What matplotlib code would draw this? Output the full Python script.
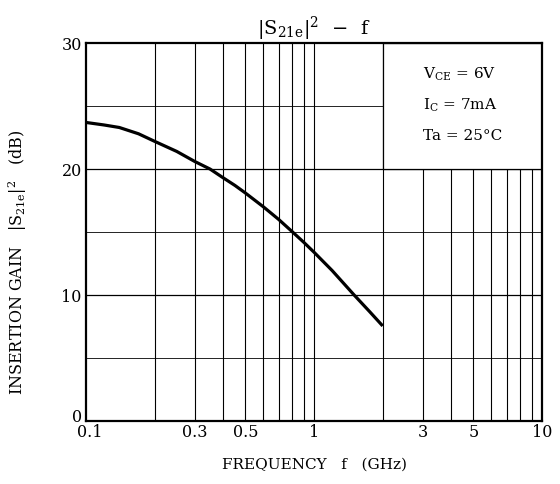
import matplotlib
matplotlib.use('Agg')
import matplotlib.pyplot as plt
import matplotlib.transforms as mtransforms
from matplotlib.ticker import FixedLocator, NullFormatter
from matplotlib.patches import Rectangle

plt.rcParams['font.family'] = ['DejaVu Serif']
plt.rcParams['mathtext.fontset'] = 'custom'
plt.rcParams['mathtext.rm'] = 'DejaVu Serif'
plt.rcParams['mathtext.it'] = 'DejaVu Serif'

# |S21e|^2 vs frequency
freq = [0.1, 0.12, 0.14, 0.17, 0.2, 0.25, 0.3, 0.35, 0.4, 0.45, 0.5, 0.6, 0.7, 0.8,
        0.9, 1.0, 1.2, 1.5, 1.75, 2.0]
gain = [23.7, 23.5, 23.3, 22.8, 22.2, 21.4, 20.6, 20.0, 19.3, 18.7, 18.1, 17.0, 16.0,
        15.05, 14.2, 13.4, 11.95, 10.0, 8.7, 7.55]

xtick_vals = [0.1, 0.3, 0.5, 1, 3, 5, 10]
xtick_labels = ['0.1', '0.3', '0.5', '1', '3', '5', '10']
ytick_vals = [0, 10, 20, 30]
conditions = [r'V$_{\mathrm{CE}}$ = 6V', r'I$_{\mathrm{C}}$ = 7mA', 'Ta = 25°C']

fig = plt.figure(figsize=(5.6, 4.84), dpi=100)
ax = fig.add_axes([0.1536, 0.130, 0.8144, 0.781])

ax.set_xscale('log')
ax.set_xlim(0.1, 10)
ax.set_ylim(0, 30)

# grid lines
grid_x = [0.2, 0.3, 0.4, 0.5, 0.6, 0.7, 0.8, 0.9, 1, 2, 3, 4, 5, 6, 7, 8, 9]
for gx in grid_x:
    ax.axvline(gx, color='black', lw=0.8, zorder=1)
for gy in [5, 10, 15, 20, 25]:
    ax.axhline(gy, color='black', lw=0.9 if gy % 10 == 0 else 0.6, zorder=1)

# condition box covers grid
ax.add_patch(Rectangle((2, 20), 8, 10, facecolor='white', edgecolor='black',
                       lw=0.9, zorder=2))
for i, txt in enumerate(conditions):
    ax.text(3.0, 27.5 - 2.45 * i, txt, fontsize=11, va='center', ha='left', zorder=3)

ax.plot(freq, gain, color='black', lw=2.3, zorder=4, solid_capstyle='butt',
        solid_joinstyle='round')

ax.xaxis.set_major_locator(FixedLocator(xtick_vals))
ax.set_xticklabels(xtick_labels)
ax.xaxis.set_minor_formatter(NullFormatter())
ax.set_yticks(ytick_vals)
ax.tick_params(axis='both', which='both', length=0, labelsize=11.5)
ax.tick_params(axis='x', pad=2)
ax.tick_params(axis='y', pad=3)

# nudge the corner labels apart
xl = ax.get_xticklabels()
xl[0].set_transform(xl[0].get_transform() +
                    mtransforms.ScaledTranslation(4 / 100, 0, fig.dpi_scale_trans))
yl = ax.get_yticklabels()
yl[0].set_transform(yl[0].get_transform() +
                    mtransforms.ScaledTranslation(0, 6 / 100, fig.dpi_scale_trans))

for sp in ax.spines.values():
    sp.set_linewidth(1.6)
    sp.set_zorder(5)

ax.set_title(r'$|\mathrm{S}_{\mathrm{21e}}|^2$  −  f', fontsize=14, pad=6)
ax.set_xlabel('FREQUENCY   f   (GHz)', fontsize=11, labelpad=12)
ax.set_ylabel(r'INSERTION GAIN   $|\mathrm{S}_{\mathrm{21e}}|^2$   (dB)', fontsize=11.5)
ax.yaxis.set_label_coords(-0.125, 0.42)

fig.savefig('out.png', dpi=100)
